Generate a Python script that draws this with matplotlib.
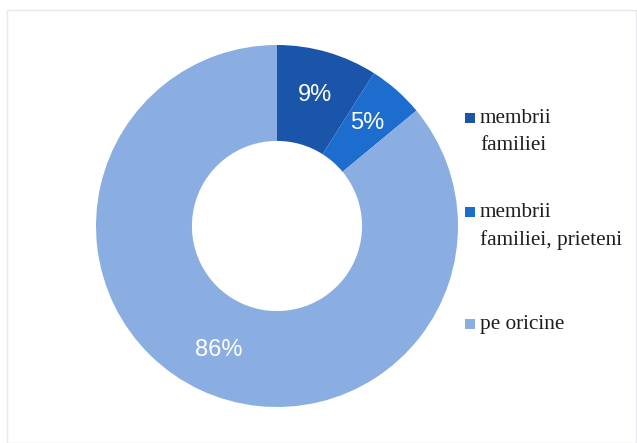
import matplotlib
matplotlib.use("Agg")
import matplotlib.pyplot as plt
from matplotlib.patches import Rectangle

# Chart data
labels = ["membrii\nfamiliei", "membrii\nfamiliei, prieteni", "pe oricine"]
values = [9, 5, 86]
colors = ["#1b55a9", "#1d6dcf", "#8aaee1"]

W, H = 637, 443
fig = plt.figure(figsize=(W / 100, H / 100), dpi=100)
fig.patch.set_facecolor("white")

# faint frame around the chart
fig.patches.append(Rectangle((7 / W, 0), 629 / W, 433 / H, transform=fig.transFigure,
                             fill=False, edgecolor="#e6e8ec", linewidth=1.0))

# donut centered at (277, 226) px, outer radius 181 px
cx, cy, r = 277, 226, 181
ax = fig.add_axes([(cx - r) / W, (H - cy - r) / H, 2 * r / W, 2 * r / H])
wedges, texts, autotexts = ax.pie(
    values, colors=colors, startangle=90, counterclock=False,
    wedgeprops=dict(width=0.53, linewidth=0),
    autopct=lambda p: f"{p:.0f}%", pctdistance=0.755,
    textprops=dict(color="white", fontsize=17, family="Liberation Sans"))
ax.set_xlim(-1, 1)
ax.set_ylim(-1, 1)
ax.set_aspect("equal")
ax.axis("off")

# legend drawn by hand: marker aligned with first text line
legend_y = [118, 212, 324]
for label, color, y in zip(labels, colors, legend_y):
    fig.patches.append(Rectangle((465 / W, (H - y - 5) / H), 10 / W, 10 / H,
                                 transform=fig.transFigure, facecolor=color,
                                 edgecolor="none"))
    fig.text(480 / W, (H - y + 9) / H, label, fontsize=15.3,
             family="Liberation Serif", color="#1e1e1e", va="top",
             linespacing=1.55)

fig.savefig("out.png", dpi=100)
